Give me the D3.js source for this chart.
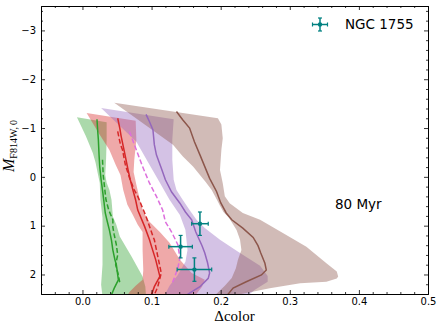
<!DOCTYPE html>
<html>
<head>
<meta charset="utf-8">
<script src="https://cdn.jsdelivr.net/npm/d3@7"></script>
<style>
body{margin:0;background:#fff;}
text{font-family:"DejaVu Sans",sans-serif;fill:#000;}
</style>
</head>
<body>
<svg id="chart"></svg>
<script>
//each band is kept as its left edge and its right edge, [color, magnitude] pairs, top to bottom
var greenLeft = [[-0.008,-1.22],[0.005,-0.83],[0.015,-0.49],[0.019,-0.29],[0.022,-0.08],[0.025,0.12],[0.026,0.47],[0.029,0.84],[0.029,1.29],[0.029,1.80],[0.027,2.21],[0.029,2.45]];
var greenRight = [[0.035,-1.12],[0.035,-0.76],[0.034,-0.29],[0.033,-0.04],[0.035,0.12],[0.039,0.27],[0.042,0.47],[0.044,0.81],[0.049,0.98],[0.054,1.22],[0.071,1.63],[0.087,2.04],[0.091,2.25],[0.092,2.45]];
var redLeft = [[0.006,-1.31],[0.025,-0.86],[0.039,-0.55],[0.048,-0.25],[0.055,-0.04],[0.059,0.27],[0.065,0.57],[0.073,0.78],[0.080,0.98],[0.087,1.13],[0.087,1.50],[0.088,1.91],[0.087,2.11],[0.077,2.23],[0.068,2.36],[0.064,2.45]];
var redRight = [[0.077,-1.15],[0.078,-0.76],[0.075,-0.35],[0.074,-0.10],[0.078,0.16],[0.083,0.47],[0.088,0.72],[0.097,0.92],[0.112,1.13],[0.126,1.35],[0.141,1.70],[0.158,1.97],[0.177,2.11],[0.173,2.25],[0.162,2.45]];
var purpleLeft = [[0.027,-1.41],[0.078,-0.72],[0.097,-0.25],[0.112,0.12],[0.126,0.47],[0.141,0.78],[0.149,1.09],[0.152,1.50],[0.149,1.74],[0.138,2.01],[0.126,2.23],[0.118,2.45]];
var purpleRight = [[0.132,-1.18],[0.130,-0.76],[0.130,-0.35],[0.132,0.06],[0.136,0.27],[0.145,0.47],[0.155,0.68],[0.165,0.88],[0.177,1.05],[0.199,1.29],[0.228,1.56],[0.257,1.82],[0.268,2.03],[0.268,2.15],[0.249,2.32],[0.238,2.45]];
var brownLeft = [[0.046,-1.52],[0.131,-0.66],[0.145,-0.42],[0.160,-0.21],[0.170,-0.04],[0.178,0.10],[0.187,0.27],[0.193,0.43],[0.199,0.59],[0.204,0.72],[0.212,0.84],[0.223,1.09],[0.228,1.29],[0.230,1.50],[0.225,1.70],[0.222,1.87],[0.216,2.07],[0.206,2.23],[0.190,2.45]];
var brownRight = [[0.196,-1.20],[0.201,-1.07],[0.203,-0.79],[0.201,-0.55],[0.199,-0.14],[0.203,0.13],[0.206,0.40],[0.213,0.54],[0.232,0.74],[0.257,0.88],[0.290,1.15],[0.324,1.43],[0.353,1.77],[0.368,1.94],[0.370,2.04],[0.368,2.08],[0.353,2.15],[0.315,2.18],[0.271,2.28],[0.237,2.38],[0.212,2.45]];

//median sequences, solid and dashed
var greenSolid = [[0.021,-1.18],[0.022,-0.95],[0.023,-0.76],[0.024,-0.45],[0.025,-0.21],[0.027,0.06],[0.029,0.27],[0.031,0.50],[0.033,0.74],[0.036,0.92],[0.039,1.09],[0.042,1.30],[0.044,1.50],[0.047,1.70],[0.049,1.80],[0.052,2.11],[0.046,2.28],[0.041,2.45]];
var greenDash = [[0.029,-0.35],[0.030,-0.04],[0.032,0.22],[0.034,0.47],[0.038,0.68],[0.044,0.88],[0.044,1.03],[0.046,1.19],[0.049,1.39],[0.051,1.60],[0.048,1.80],[0.052,2.01],[0.054,2.17]];
var redSolid = [[0.051,-1.20],[0.054,-1.00],[0.056,-0.83],[0.061,-0.49],[0.066,-0.14],[0.069,0.05],[0.073,0.27],[0.077,0.48],[0.080,0.68],[0.090,1.02],[0.097,1.29],[0.100,1.43],[0.106,1.70],[0.109,1.87],[0.112,2.04],[0.104,2.25],[0.099,2.45]];
var redDash = [[0.051,-0.93],[0.055,-0.66],[0.058,-0.55],[0.062,-0.25],[0.068,0.02],[0.075,0.27],[0.080,0.40],[0.092,0.81],[0.102,1.22],[0.104,1.29],[0.109,1.63],[0.114,1.97],[0.109,2.25],[0.103,2.45]];
var violetDash = [[0.068,-0.93],[0.078,-0.55],[0.087,-0.21],[0.097,0.13],[0.107,0.40],[0.116,0.68],[0.120,0.92],[0.129,1.13],[0.138,1.39],[0.141,1.66],[0.138,1.87],[0.133,2.07],[0.129,2.21]];
var purpleSolid = [[0.092,-1.28],[0.097,-1.13],[0.102,-0.96],[0.104,-0.66],[0.107,-0.45],[0.114,-0.18],[0.120,0.06],[0.129,0.31],[0.141,0.54],[0.149,0.72],[0.158,0.88],[0.164,1.13],[0.173,1.41],[0.177,1.56],[0.181,1.76],[0.184,1.97],[0.182,2.08],[0.170,2.25],[0.155,2.38],[0.148,2.45]];
var brownSolid = [[0.136,-1.34],[0.145,-1.17],[0.155,-1.00],[0.162,-0.72],[0.170,-0.45],[0.177,-0.21],[0.184,0.03],[0.194,0.30],[0.200,0.53],[0.208,0.74],[0.216,0.88],[0.232,1.05],[0.247,1.24],[0.254,1.41],[0.258,1.56],[0.264,1.77],[0.266,1.91],[0.259,2.01],[0.237,2.15],[0.218,2.28],[0.208,2.45]];

//NGC 1755 measurements
var obsColor = [0.170, 0.142, 0.162];
var obsColorErr = [0.012, 0.017, 0.025];
var obsMag = [0.96, 1.43, 1.90];
var obsMagErr = [0.24, 0.23, 0.24];

var xTicks = [0.0, 0.1, 0.2, 0.3, 0.4, 0.5];
var yTicks = [-3, -2, -1, 0, 1, 2];

var initGraph = function(target)
{
    var screen = {width:443, height:331};
    var margins = {top:6, bottom:37, left:41, right:15};
    var graph =
    {
        width:screen.width-margins.left-margins.right,
        height:screen.height-margins.top-margins.bottom
    };

    var svg = d3.select(target)
        .attr("width",screen.width)
        .attr("height",screen.height);

    var xScale = d3.scaleLinear()
        .domain([-0.06,0.5])
        .range([0,graph.width]);

    var yScale = d3.scaleLinear()
        .domain([-3.5,2.4])
        .range([0,graph.height]);

    svg.append("defs").append("clipPath")
        .attr("id","plotClip")
        .append("rect")
        .attr("width",graph.width)
        .attr("height",graph.height);

    var g = svg.append("g")
        .attr("transform","translate("+margins.left+","+margins.top+")");

    var plot = g.append("g").attr("clip-path","url(#plotClip)");

    drawBands(plot,xScale,yScale);
    drawLines(plot,xScale,yScale);
    drawPoints(g,xScale,yScale);
    createAxes(g,graph,xScale,yScale);
    drawLabels(svg,margins,graph);
};

var drawBands = function(plot,xScale,yScale)
{
    var line = d3.line()
        .x(function(d){return xScale(d[0]);})
        .y(function(d){return yScale(d[1]);});

    var bands = [
        {left:greenLeft, right:greenRight, color:"#2ca02c"},
        {left:redLeft, right:redRight, color:"#d62728"},
        {left:purpleLeft, right:purpleRight, color:"#9467bd"},
        {left:brownLeft, right:brownRight, color:"#8c564b"}
    ];

    plot.selectAll(".band")
        .data(bands)
        .enter()
        .append("path")
        .attr("class","band")
        .attr("d",function(b){return line(b.left.concat(b.right.slice().reverse()))+"Z";})
        .attr("fill",function(b){return b.color;})
        .attr("fill-opacity",0.4)
        .attr("stroke","none");
};

var drawLines = function(plot,xScale,yScale)
{
    var line = d3.line()
        .x(function(d){return xScale(d[0]);})
        .y(function(d){return yScale(d[1]);});

    var seqs = [
        {pts:greenSolid, color:"#2ca02c", dash:null},
        {pts:greenDash, color:"#2ca02c", dash:"5,2.5"},
        {pts:redSolid, color:"#d62728", dash:null},
        {pts:redDash, color:"#d62728", dash:"5,2.5"},
        {pts:violetDash, color:"#dd6fdd", dash:"5,2.5"},
        {pts:purpleSolid, color:"#9467bd", dash:null},
        {pts:brownSolid, color:"#8c564b", dash:null}
    ];

    plot.selectAll(".seq")
        .data(seqs)
        .enter()
        .append("path")
        .attr("class","seq")
        .attr("d",function(s){return line(s.pts);})
        .attr("fill","none")
        .attr("stroke",function(s){return s.color;})
        .attr("stroke-width",1.5)
        .attr("stroke-dasharray",function(s){return s.dash;});
};

//error bars with small caps
var errorCross = function(sel,cx,cy,dx,dy)
{
    var c = "#008080";
    sel.append("line").attr("x1",cx-dx).attr("x2",cx+dx).attr("y1",cy).attr("y2",cy)
        .attr("stroke",c).attr("stroke-width",1.5);
    sel.append("line").attr("x1",cx).attr("x2",cx).attr("y1",cy-dy).attr("y2",cy+dy)
        .attr("stroke",c).attr("stroke-width",1.5);
    sel.append("line").attr("x1",cx-dx).attr("x2",cx-dx).attr("y1",cy-2).attr("y2",cy+2)
        .attr("stroke",c).attr("stroke-width",1.2);
    sel.append("line").attr("x1",cx+dx).attr("x2",cx+dx).attr("y1",cy-2).attr("y2",cy+2)
        .attr("stroke",c).attr("stroke-width",1.2);
    sel.append("line").attr("x1",cx-2).attr("x2",cx+2).attr("y1",cy-dy).attr("y2",cy-dy)
        .attr("stroke",c).attr("stroke-width",1.2);
    sel.append("line").attr("x1",cx-2).attr("x2",cx+2).attr("y1",cy+dy).attr("y2",cy+dy)
        .attr("stroke",c).attr("stroke-width",1.2);
    sel.append("circle").attr("cx",cx).attr("cy",cy).attr("r",2.2).attr("fill",c);
};

var drawPoints = function(g,xScale,yScale)
{
    obsColor.forEach(function(v,i)
    {
        var cx = xScale(v);
        var cy = yScale(obsMag[i]);
        var dx = xScale(v+obsColorErr[i])-cx;
        var dy = yScale(obsMag[i]+obsMagErr[i])-cy;
        errorCross(g.append("g"),cx,cy,dx,dy);
    });
};

var createAxes = function(g,graph,xScale,yScale)
{
    var xMinor = d3.range(-0.04,0.5,0.02).filter(function(v){return Math.abs(Math.round(v*10)-v*10)>0.01;});
    var yMinor = d3.range(-3.4,2.4,0.2).filter(function(v){return Math.abs(Math.round(v)-v)>0.01;});

    var add = function(axis,tr)
    {
        var a = g.append("g")
            .attr("transform",tr)
            .call(axis);
        a.selectAll("text").style("font-family","'DejaVu Sans',sans-serif").style("font-size","10px");
        a.selectAll("line").attr("stroke","#000").attr("stroke-width",0.8);
        a.select(".domain").attr("stroke","#000").attr("stroke-width",1);
        return a;
    };

    add(d3.axisBottom(xScale).tickValues(xTicks).tickFormat(d3.format(".1f")).tickSize(-4).tickSizeOuter(0).tickPadding(4),
        "translate(0,"+graph.height+")");
    add(d3.axisBottom(xScale).tickValues(xMinor).tickFormat("").tickSize(-2).tickSizeOuter(0),
        "translate(0,"+graph.height+")");
    add(d3.axisTop(xScale).tickValues(xTicks).tickFormat("").tickSize(-4).tickSizeOuter(0),"translate(0,0)");
    add(d3.axisTop(xScale).tickValues(xMinor).tickFormat("").tickSize(-2).tickSizeOuter(0),"translate(0,0)");

    add(d3.axisLeft(yScale).tickValues(yTicks).tickFormat(d3.format("d")).tickSize(-4).tickSizeOuter(0).tickPadding(5),"translate(0,0)");
    add(d3.axisLeft(yScale).tickValues(yMinor).tickFormat("").tickSize(-2).tickSizeOuter(0),"translate(0,0)");
    add(d3.axisRight(yScale).tickValues(yTicks).tickFormat("").tickSize(-4).tickSizeOuter(0),"translate("+graph.width+",0)");
    add(d3.axisRight(yScale).tickValues(yMinor).tickFormat("").tickSize(-2).tickSizeOuter(0),"translate("+graph.width+",0)");
};

var drawLabels = function(svg,margins,graph)
{
    //x label
    svg.append("text")
        .attr("x",margins.left+graph.width/2)
        .attr("y",321)
        .attr("text-anchor","middle")
        .style("font-family","'Liberation Serif',serif")
        .style("font-size","15px")
        .text("Δcolor");

    //y label, italic M with roman subscript
    var yl = svg.append("text")
        .attr("transform","translate(14,"+(margins.top+graph.height/2-4)+") rotate(-90)")
        .attr("text-anchor","middle")
        .style("font-family","'Liberation Serif',serif");
    yl.append("tspan").style("font-style","italic").style("font-size","16px").text("M");
    yl.append("tspan").attr("dy",3).style("font-size","10px").text("F814W,\u20090");

    //legend
    var lg = svg.append("g");
    errorCross(lg,320,24.5,7.5,6.5);
    svg.append("text")
        .attr("x",345)
        .attr("y",29.3)
        .style("font-size","13.5px")
        .text("NGC 1755");

    svg.append("text")
        .attr("x",335)
        .attr("y",208.8)
        .style("font-size","13.5px")
        .text("80 Myr");
};

initGraph("#chart");
</script>
</body>
</html>
